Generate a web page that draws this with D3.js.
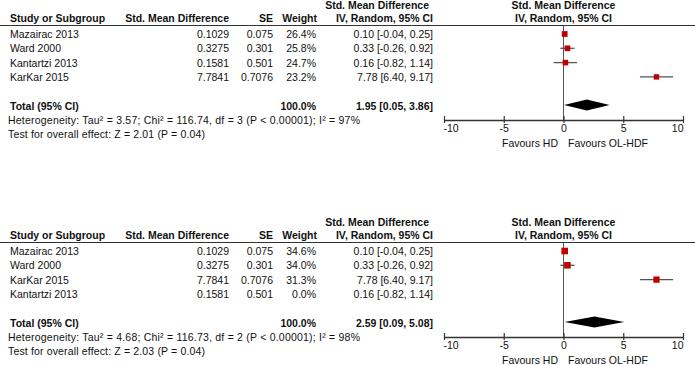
<!DOCTYPE html>
<html><head><meta charset="utf-8">
<script src="https://cdn.jsdelivr.net/npm/d3@7"></script>
<style>
html,body{margin:0;padding:0;background:#fff;}
svg{display:block;font-family:"Liberation Sans",Arial,sans-serif;}
</style></head>
<body><svg id="c" width="695" height="365"></svg>
<script>
// ---- data ----
const studies1 = ["Mazairac 2013","Ward 2000","Kantartzi 2013","KarKar 2015"];
const smd1 = [0.1029,0.3275,0.1581,7.7841];
const se1 = ["0.075","0.301","0.501","0.7076"];
const weight1 = [26.4,25.8,24.7,23.2];
const est1 = [0.10,0.33,0.16,7.78];
const lo1 = [-0.04,-0.26,-0.82,6.40];
const hi1 = [0.25,0.92,1.14,9.17];
const total1 = {est:1.95, lo:0.05, hi:3.86};
const het1 = "Heterogeneity: Tau² = 3.57; Chi² = 116.74, df = 3 (P < 0.00001); I² = 97%";
const test1 = "Test for overall effect: Z = 2.01 (P = 0.04)";

const studies2 = ["Mazairac 2013","Ward 2000","KarKar 2015","Kantartzi 2013"];
const smd2 = [0.1029,0.3275,7.7841,0.1581];
const se2 = ["0.075","0.301","0.7076","0.501"];
const weight2 = [34.6,34.0,31.3,0.0];
const est2 = [0.10,0.33,7.78,0.16];
const lo2 = [-0.04,-0.26,6.40,-0.82];
const hi2 = [0.25,0.92,9.17,1.14];
const total2 = {est:2.59, lo:0.09, hi:5.08};
const het2 = "Heterogeneity: Tau² = 4.68; Chi² = 116.73, df = 2 (P < 0.00001); I² = 98%";
const test2 = "Test for overall effect: Z = 2.03 (P = 0.04)";

const axisTicks = [-10,-5,0,5,10];
const axisDomain = [-10,10];
const favLeft = "Favours HD", favRight = "Favours OL-HDF";

// ---- drawing ----
const svg = d3.select("#c");
const x = d3.scaleLinear().domain(axisDomain).range([444,683]);
const FS = 10.5;
const red = "#c00000";
const hy = s => s.replace(/\u2212/g,"-");
const f2 = v => hy(d3.format(".2f")(v));

function panel(y0, studies, smd, se, weight, est, lo, hi, total, het, test){
  const g = svg.append("g").attr("transform",`translate(0,${y0})`);
  const txt = (t,xx,yy,anchor,bold)=>g.append("text").attr("x",xx).attr("y",yy)
     .attr("text-anchor",anchor||"start").attr("font-size",FS)
     .attr("font-weight",bold?"bold":"normal").attr("fill","#111").text(t);
  // headers
  txt("Std. Mean Difference",429,9,"end",true);
  txt("Std. Mean Difference",x(0),9,"middle",true);
  txt("Study or Subgroup",10,22,"start",true);
  txt("Std. Mean Difference",229,22,"end",true);
  txt("SE",273,22,"end",true);
  txt("Weight",317,22,"end",true);
  txt("IV, Random, 95% CI",433,22,"end",true);
  txt("IV, Random, 95% CI",x(0),22,"middle",true);
  g.append("line").attr("x1",0).attr("x2",695).attr("y1",25.5).attr("y2",25.5)
    .attr("stroke","#333").attr("stroke-width",1.2);

  const rowY = d3.scaleLinear().domain([0,1]).range([34,48.3]);
  studies.forEach((s,i)=>{
    const yb = rowY(i)+4;
    txt(s,10,yb);
    txt(d3.format(".4f")(smd[i]),229,yb,"end");
    txt(se[i],273,yb,"end");
    txt(d3.format(".1f")(weight[i])+"%",316,yb,"end");
    txt(`${f2(est[i])} [${f2(lo[i])}, ${f2(hi[i])}]`,433,yb,"end");
  });
  // zero line
  g.append("line").attr("x1",x(0)).attr("x2",x(0)).attr("y1",26).attr("y2",120)
    .attr("stroke","#555").attr("stroke-width",1);
  // CI lines and squares
  studies.forEach((s,i)=>{
    if(weight[i]<=0) return;
    const cy = rowY(i);
    g.append("line").attr("x1",x(lo[i])).attr("x2",x(hi[i])).attr("y1",cy).attr("y2",cy)
      .attr("stroke","#555").attr("stroke-width",1.3);
    const side = 1.12*Math.sqrt(weight[i]);
    g.append("rect").attr("x",x(est[i])-side/2).attr("y",cy-side/2)
      .attr("width",side).attr("height",side).attr("fill",red);
  });
  // total
  txt("Total (95% CI)",10,110,"start",true);
  txt("100.0%",316,110,"end",true);
  txt(`${f2(total.est)} [${f2(total.lo)}, ${f2(total.hi)}]`,433,110,"end",true);
  const dy = 105;
  g.append("path").attr("d",`M${x(total.lo)},${dy} L${x(total.est)},${dy-5.5} L${x(total.hi)},${dy} L${x(total.est)},${dy+5.5} Z`)
    .attr("fill","#000");
  txt(het,8,124).attr("textLength",352).attr("lengthAdjust","spacing");
  txt(test,8,138).attr("textLength",197).attr("lengthAdjust","spacing");
  // axis
  const ax = g.append("g").attr("transform","translate(0,120)")
    .call(d3.axisBottom(x).tickValues(axisTicks).tickSize(3).tickSizeOuter(0).tickFormat(d=>hy(d3.format("d")(d))));
  ax.select(".domain").attr("stroke","#333").attr("stroke-width",1.3);
  ax.selectAll(".tick line").attr("y1",-4).attr("y2",3).attr("stroke","#333").attr("stroke-width",1.2);
  ax.selectAll(".tick text").attr("font-size",FS).attr("font-family","Liberation Sans, Arial, sans-serif")
    .attr("fill","#111").attr("y",5)
    .attr("text-anchor",(d,i)=> i===0?"start": (i===axisTicks.length-1?"end":"middle"))
    .attr("dx",(d,i)=> i===0?"-1": "0");
  txt(favLeft,558,147,"end");
  txt(favRight,568,147,"start");
}

panel(0, studies1, smd1, se1, weight1, est1, lo1, hi1, total1, het1, test1);
panel(217, studies2, smd2, se2, weight2, est2, lo2, hi2, total2, het2, test2);
</script></body></html>
